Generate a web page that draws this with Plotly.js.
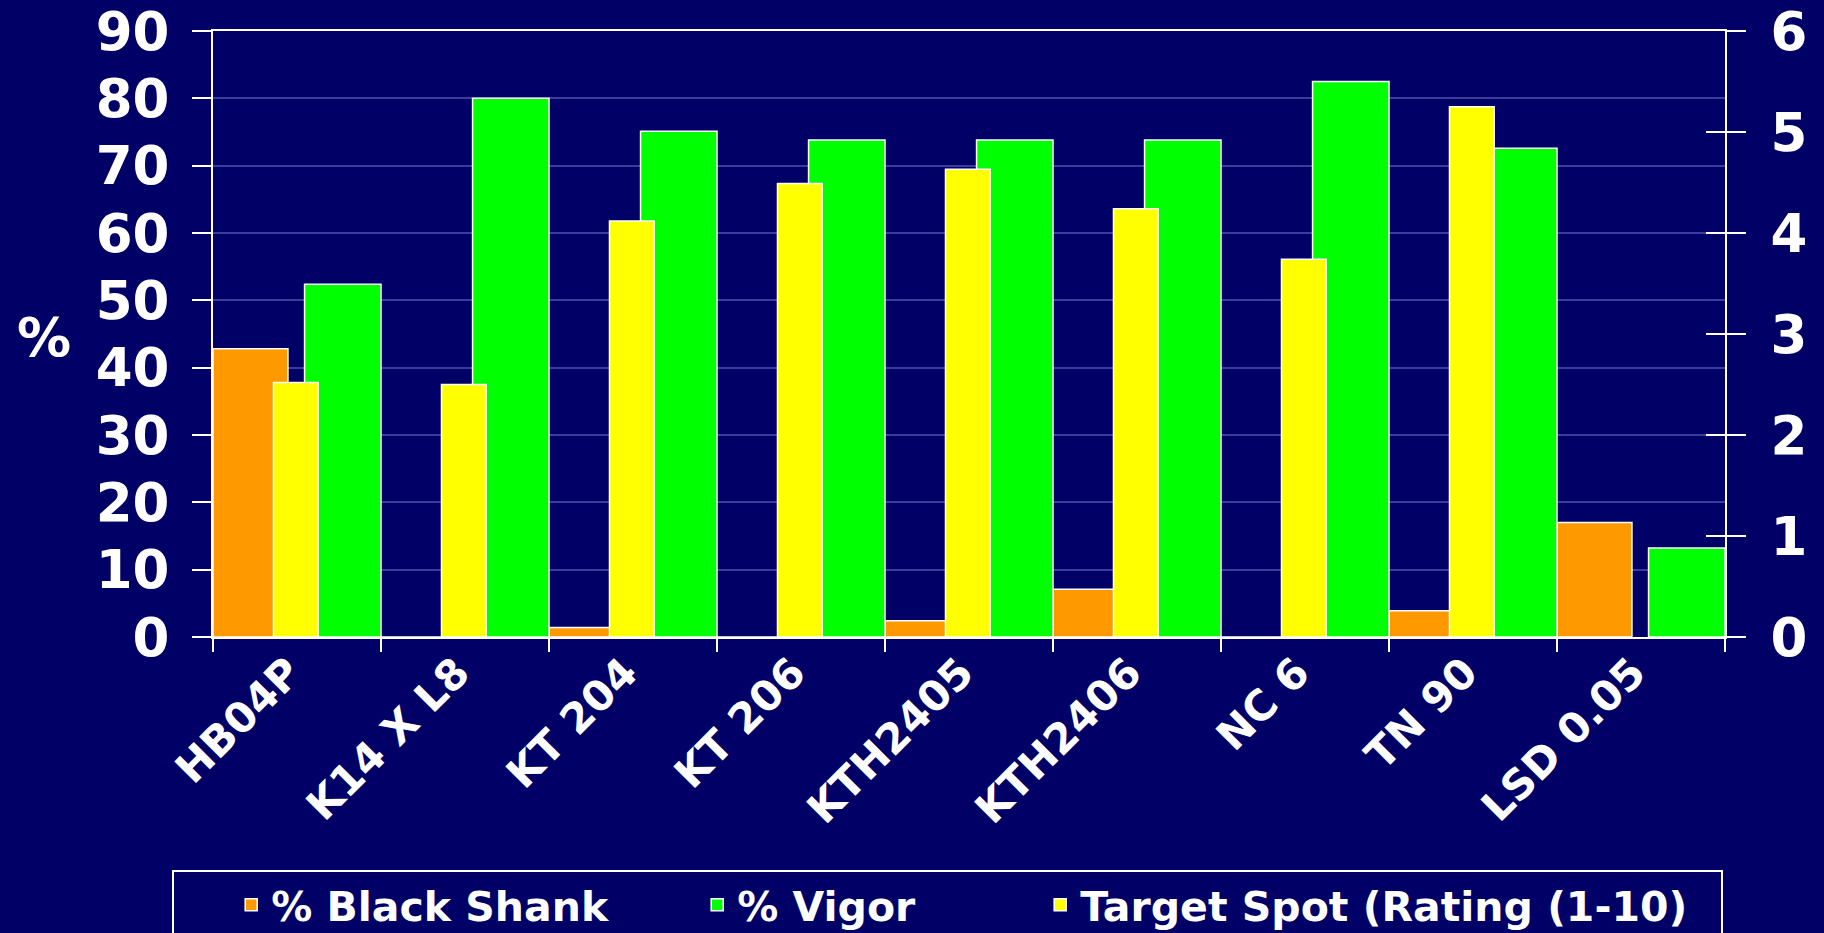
<!DOCTYPE html>
<html>
<head>
<meta charset="utf-8">
<script src="https://cdn.plot.ly/plotly-3.0.1.min.js"></script>
<style>html,body{margin:0;padding:0;background:#000066;}#chart{width:1824px;height:933px;}</style>
</head>
<body>
<div id="chart"></div>
<script>
const categories = ["HB04P", "K14 X L8", "KT 204", "KT 206", "KTH2405", "KTH2406", "NC 6", "TN 90", "LSD 0.05"];
const blackShank = [42.8, 0, 1.4, 0, 2.4, 7.1, 0, 3.9, 17.0];
const vigor = [52.4, 80.0, 75.1, 73.8, 73.8, 73.8, 82.5, 72.6, 13.2];
const targetSpot = [2.52, 2.5, 4.12, 4.49, 4.63, 4.24, 3.74, 5.25, null];
const leftTicks = [0, 10, 20, 30, 40, 50, 60, 70, 80, 90];
const rightTicks = [0, 1, 2, 3, 4, 5, 6];

const FONT = "DejaVu Sans, Verdana, sans-serif";
const lineStyle = {color: "#FFFFFF", width: 1.5};

const traces = [
  {type: "bar", name: "% Black Shank", x: categories, y: blackShank, yaxis: "y",
   offset: -0.5, width: 0.446, marker: {color: "#FF9900", line: lineStyle}, legendwidth: 364},
  {type: "bar", name: "% Vigor", x: categories, y: vigor, yaxis: "y",
   offset: 0.045, width: 0.455, marker: {color: "#00FF00", line: lineStyle}, legendwidth: 241},
  {type: "bar", name: "Target Spot (Rating (1-10)", x: categories, y: targetSpot, yaxis: "y2",
   offset: -0.14, width: 0.266, marker: {color: "#FFFF00", line: lineStyle}, legendwidth: 636},
  {type: "scatter", x: [], y: [], yaxis: "y3", showlegend: false, hoverinfo: "skip"}
];

const layout = {
  width: 1824, height: 933,
  paper_bgcolor: "#000066", plot_bgcolor: "#000066",
  margin: {l: 213, r: 99, t: 31, b: 296, autoexpand: false},
  barmode: "overlay",
  showlegend: true,
  font: {family: FONT, color: "#FFFFFF"},
  xaxis: {
    type: "category", range: [-0.5, 8.5], tickson: "boundaries",
    ticks: "outside", ticklen: 13, tickwidth: 2, tickcolor: "#FFFFFF",
    showline: true, linecolor: "#FFFFFF", linewidth: 2, mirror: true,
    showgrid: false, tickangle: -45, ticklabelstandoff: -8, ticklabelshift: -8,
    tickfont: {family: FONT, size: 42, weight: "bold", color: "#FFFFFF"}
  },
  yaxis: {
    range: [0, 90], tickvals: leftTicks, ticktext: leftTicks.map(String),
    ticks: "outside", ticklen: 19, tickwidth: 2, tickcolor: "#FFFFFF",
    showline: true, linecolor: "#FFFFFF", linewidth: 2,
    showgrid: true, gridcolor: "#3C3C9C", gridwidth: 2, zeroline: false,
    tickfont: {family: FONT, size: 53, weight: "bold", color: "#FFFFFF"},
    ticklabelstandoff: 12
  },
  yaxis2: {
    range: [0, 6], tickvals: rightTicks, ticktext: rightTicks.map(String),
    overlaying: "y", side: "right", anchor: "x",
    ticks: "outside", ticklen: 19, tickwidth: 2, tickcolor: "#FFFFFF",
    showline: true, linecolor: "#FFFFFF", linewidth: 2,
    showgrid: false, zeroline: false, ticklabelstandoff: 14,
    tickfont: {family: FONT, size: 53, weight: "bold", color: "#FFFFFF"}
  },
  yaxis3: {
    range: [0, 6], tickvals: rightTicks, overlaying: "y", side: "right", anchor: "x",
    ticks: "inside", ticklen: 19, tickwidth: 2, tickcolor: "#FFFFFF",
    showticklabels: false, showline: false, showgrid: false, zeroline: false
  },
  legend: {
    orientation: "h", x: -0.027, xanchor: "left", y: -0.384, yanchor: "top",
    bgcolor: "rgba(0,0,0,0)", bordercolor: "#FFFFFF", borderwidth: 2,
    indentation: 57, traceorder: "normal",
    font: {family: FONT, size: 41, weight: "bold", color: "#FFFFFF"}
  },
  annotations: [{
    text: "%", xref: "paper", yref: "paper", x: -0.112, y: 0.495,
    showarrow: false, xanchor: "center", yanchor: "middle",
    font: {family: FONT, size: 54, weight: "bold", color: "#FFFFFF"}
  }]
};

Plotly.newPlot("chart", traces, layout, {displayModeBar: false, staticPlot: true});
</script>
</body>
</html>
